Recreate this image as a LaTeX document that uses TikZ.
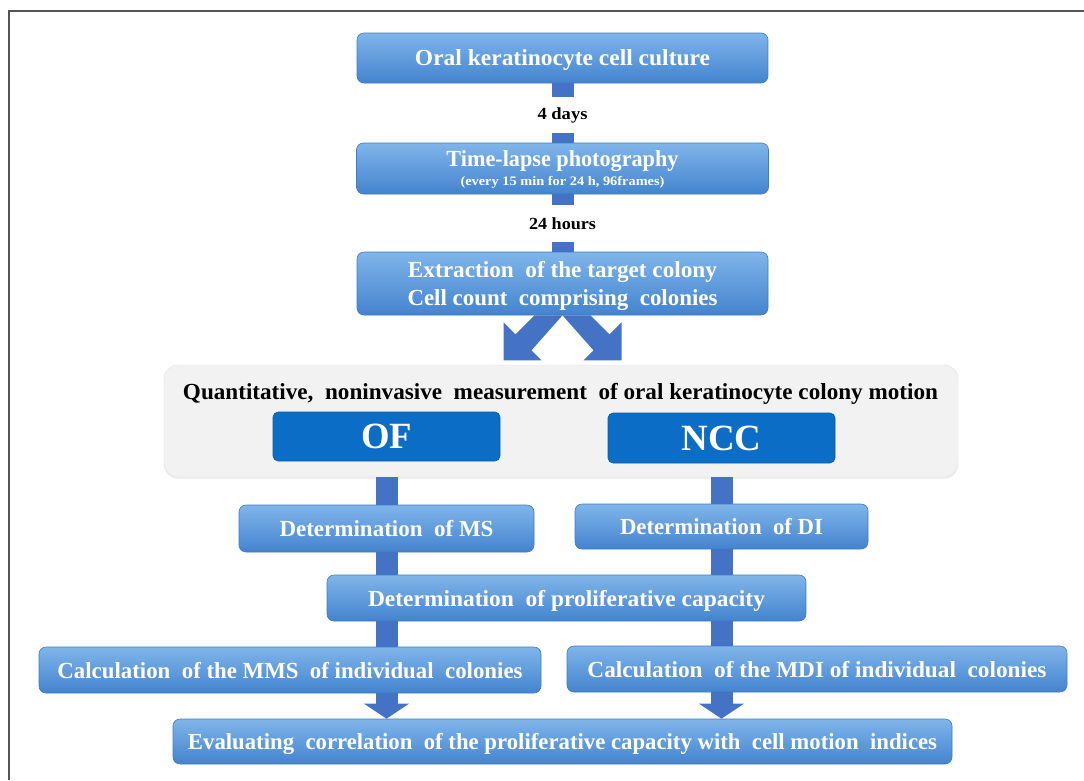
\documentclass[tikz,border=0pt]{standalone}
\usepackage{fontspec}
\setmainfont{Liberation Serif}
\usepackage{graphicx}
\usetikzlibrary{positioning,arrows.meta,shadows}

\definecolor{boxtop}{HTML}{7FB5EA}
\definecolor{boxbot}{HTML}{4483CE}
\definecolor{boxline}{HTML}{3F7BC2}
\definecolor{darkblue}{HTML}{0B6DC6}
\definecolor{stubblue}{HTML}{4472C4}
\definecolor{panelgray}{HTML}{F2F2F2}
\definecolor{framegray}{HTML}{555555}

% 横向压缩文字
\newcommand{\wtext}[2]{\resizebox{#1}{\height}{#2}}

\begin{document}
\begin{tikzpicture}[
    x=1pt, y=-1pt,
    every node/.style={font=\bfseries},
    box/.style={draw=boxline, line width=0.6pt, rounded corners=7pt, top color=boxtop, bottom color=boxbot, text=white, inner sep=0pt, text depth=0pt, align=center, font=\fontsize{23pt}{28pt}\selectfont\bfseries},
    bigbox/.style={box, font=\fontsize{23pt}{28pt}\selectfont\bfseries},
    darkbox/.style={draw=darkblue!85!black, line width=0.6pt, rounded corners=5pt, fill=darkblue, text=white, inner sep=0pt, font=\fontsize{37pt}{40pt}\selectfont\bfseries},
    panel/.style={fill=panelgray, draw=gray!25, rounded corners=14pt, drop shadow={opacity=0.12, shadow xshift=0pt, shadow yshift=-2pt}},
    steplabel/.style={inner sep=0pt, minimum height=36pt, font=\fontsize{17pt}{19pt}\selectfont\bfseries},
    stub/.style={stubblue, line width=22pt},
    fat/.style={stub, -{Triangle[width=45pt, length=15pt, line width=0pt]}}
]
\useasboundingbox (0,0) rectangle (1084,780);

% 外框
\draw[framegray, line width=1.6pt] (9,780) -- (9,11) -- (1084,11);

% 上部流程
\node[bigbox, minimum width=411pt, minimum height=50pt] (culture) at (562.5,58) {\wtext{295pt}{Oral keratinocyte cell culture}};
\node[steplabel] (days) at (562.5,115) {\wtext{50pt}{4 days}};
\node[bigbox, minimum width=412pt, minimum height=51pt] (timelapse) at (562.5,168.5) {\wtext{232pt}{Time-lapse photography}\\[-9pt]
    {\fontsize{13pt}{15pt}\selectfont\wtext{204pt}{(every 15 min for 24 h, 96frames)}}};
\node[steplabel, minimum height=37pt] (hours) at (562.5,223.5) {\wtext{67pt}{24 hours}};
\node[bigbox, minimum width=411pt, minimum height=63pt] (extract) at (562.5,283.5) {\wtext{309pt}{Extraction\ \ of the target colony}\\
    \wtext{310pt}{Cell count\ \ comprising\ \ colonies}};

% 测量面板
\node[panel, minimum width=794pt, minimum height=112pt] (panel) at (561,421) {};
\node[inner sep=0pt, anchor=base, font=\fontsize{23pt}{26pt}\selectfont\bfseries] (quant) at (560.5,399) {\wtext{755pt}{Quantitative,\ \ noninvasive\ \ measurement\ \ of oral keratinocyte colony motion}};
\node[darkbox, minimum width=227pt, minimum height=49pt] (of) at (386.5,436.5) {\wtext{51pt}{OF}};
\node[darkbox, minimum width=227pt, minimum height=50pt] (ncc) at (721.5,438) {\wtext{80pt}{NCC}};

% 下部流程
\node[box, minimum width=295pt, minimum height=47pt] (ms) at (386.5,528.5) {\wtext{214pt}{Determination\ \ of MS}};
\node[box, minimum width=293pt, minimum height=45pt] (di) at (721.5,526.5) {\wtext{203pt}{Determination\ \ of DI}};
\node[box, minimum width=479pt, minimum height=46pt] (prolif) at (566.5,598) {\wtext{397pt}{Determination\ \ of proliferative capacity}};
\node[box, minimum width=502pt, minimum height=46pt] (mms) at (290,670) {\wtext{465pt}{Calculation\ \ of the MMS\ \ of individual\ \ colonies}};
\node[box, minimum width=500pt, minimum height=46pt] (mdi) at (817,669) {\wtext{459pt}{Calculation\ \ of the MDI of individual\ \ colonies}};
\node[box, minimum width=779pt, minimum height=45pt] (evaluate) at (562.5,741.5) {\wtext{749pt}{Evaluating\ \ correlation\ \ of the proliferative capacity with\ \ cell motion\ \ indices}};

% 连接线
\draw[stub] (culture.south) -- (days.north);
\draw[stub] (days.south) -- (timelapse.north);
\draw[stub] (timelapse.south) -- (hours.north);
\draw[stub] (hours.south) -- (extract.north);

% 分叉箭头
\fill[stubblue, shift={(extract.south)}] (-28,0) -- (0,0) -- (-31,35) -- (-21,45) -- (-59,45) -- (-59,7) -- (-47,19) -- cycle;
\fill[stubblue, shift={(extract.south)}, xscale=-1] (-28,0) -- (0,0) -- (-31,35) -- (-21,45) -- (-59,45) -- (-59,7) -- (-47,19) -- cycle;

\draw[stub] (ms.north |- panel.south) -- (ms.north);
\draw[stub] (di.north |- panel.south) -- (di.north);
\draw[stub] (ms.south) -- (ms.south |- prolif.north);
\draw[stub] (di.south) -- (di.south |- prolif.north);
\draw[stub] (ms.south |- prolif.south) -- (ms.south |- mms.north);
\draw[stub] (di.south |- prolif.south) -- (di.south |- mdi.north);
\draw[fat] (ms.south |- mms.south) -- (ms.south |- evaluate.north);
\draw[fat] (di.south |- mdi.south) -- (di.south |- evaluate.north);

\end{tikzpicture}
\end{document}
